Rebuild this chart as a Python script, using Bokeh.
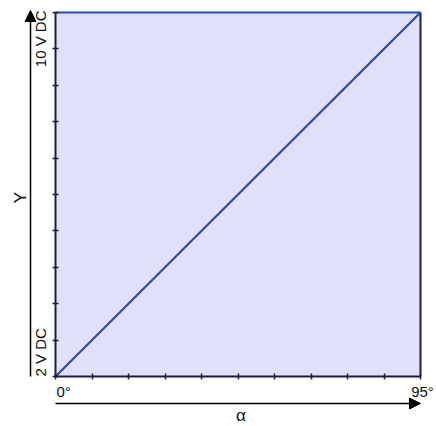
import math
from bokeh.plotting import figure
from bokeh.models import Range1d, FixedTicker, Label, Arrow, NormalHead, LinearAxis
from bokeh.embed import file_html
from bokeh.resources import INLINE

# data
alpha_range = [0, 95]          # degrees
signal_range = [2, 10]         # V DC
x_ticks = [0, 9.5, 19, 28.5, 38, 47.5, 57, 66.5, 76, 85.5, 95]
y_ticks = [2, 2.8, 3.6, 4.4, 5.2, 6.0, 6.8, 7.6, 8.4, 9.2, 10]
x_tick_labels = ["0°", "95°"]
y_tick_labels = ["2 V DC", "10 V DC"]
x_title = "α"
y_title = "Y"

FILL = "#e0e0fb"
LINE = "#2a4b9e"
AXIS = "#1c1f3e"
FONT = "Liberation Sans"

W, H = 434, 424
# pixel layout of the data box inside the canvas
BOX_L, BOX_R, BOX_T, BOX_B = 55, 420, 12, 376
ux = (alpha_range[1] - alpha_range[0]) / (BOX_R - BOX_L)
uy = (signal_range[1] - signal_range[0]) / (BOX_B - BOX_T)

p = figure(width=W, height=H, output_backend="svg", toolbar_location=None,
           x_range=Range1d(alpha_range[0] - BOX_L * ux, alpha_range[1] + (W - BOX_R) * ux),
           y_range=Range1d(signal_range[0] - (H - BOX_B) * uy, signal_range[1] + BOX_T * uy),
           x_axis_location=None, y_axis_location=None,
           min_border=0)
p.grid.visible = False
p.outline_line_color = None
p.background_fill_color = "white"
p.border_fill_color = "white"

# filled operating area
p.quad(left=[alpha_range[0]], right=[alpha_range[1]],
       bottom=[signal_range[0]], top=[signal_range[1]],
       fill_color=FILL, line_color=None)
# right boundary
p.line(x=[alpha_range[1], alpha_range[1]], y=signal_range, line_color=AXIS, line_width=2)
# top boundary
p.line(x=alpha_range, y=[signal_range[1], signal_range[1]], line_color=LINE, line_width=2)
# characteristic
p.line(x=alpha_range, y=signal_range, line_color=LINE, line_width=2.2)


def style(ax, ticks, bounds):
    ax.ticker = FixedTicker(ticks=[], minor_ticks=ticks)
    ax.bounds = tuple(bounds)
    ax.minor_tick_in = 3
    ax.minor_tick_out = 3
    ax.minor_tick_line_color = AXIS
    ax.minor_tick_line_width = 1.5
    ax.major_tick_line_color = None
    ax.axis_line_color = AXIS
    ax.axis_line_width = 2


xax = LinearAxis(fixed_location=signal_range[0])
style(xax, x_ticks, alpha_range)
p.add_layout(xax, "below")
yax = LinearAxis(fixed_location=alpha_range[0])
style(yax, y_ticks, signal_range)
p.add_layout(yax, "left")

common = dict(text_font=FONT, text_color="#111111")

# x tick labels
p.add_layout(Label(x=alpha_range[0], y=signal_range[0], text=x_tick_labels[0],
                   x_offset=1, y_offset=-6, text_align="left", text_baseline="top",
                   text_font_size="15px", **common))
p.add_layout(Label(x=alpha_range[1], y=signal_range[0], text=x_tick_labels[1],
                   x_offset=2, y_offset=-6, text_align="center", text_baseline="top",
                   text_font_size="15px", **common))
# y tick labels (rotated)
p.add_layout(Label(x=alpha_range[0], y=signal_range[0], text=y_tick_labels[0],
                   x_offset=-7, y_offset=0, angle=math.pi / 2,
                   text_align="left", text_baseline="bottom",
                   text_font_size="15px", **common))
p.add_layout(Label(x=alpha_range[0], y=signal_range[1], text=y_tick_labels[1],
                   x_offset=-7, y_offset=2, angle=math.pi / 2,
                   text_align="right", text_baseline="bottom",
                   text_font_size="15px", **common))

# axis arrows
p.add_layout(Arrow(x_start=alpha_range[0], y_start=signal_range[0] - 27 * uy,
                   x_end=alpha_range[1], y_end=signal_range[0] - 27 * uy,
                   line_color="black", line_width=1.5,
                   end=NormalHead(size=11, fill_color="black", line_color="black")))
p.add_layout(Arrow(x_start=alpha_range[0] - 25 * ux, y_start=signal_range[0],
                   x_end=alpha_range[0] - 25 * ux, y_end=signal_range[1] + 2 * uy,
                   line_color="black", line_width=1.5,
                   end=NormalHead(size=11, fill_color="black", line_color="black")))

# axis titles
p.add_layout(Label(x=(alpha_range[0] + alpha_range[1]) / 2, y=signal_range[0],
                   text=x_title, x_offset=3, y_offset=-39,
                   text_align="center", text_baseline="middle",
                   text_font_size="17px", **common))
p.add_layout(Label(x=alpha_range[0] - 35 * ux, y=(signal_range[0] + signal_range[1]) / 2,
                   text=y_title, y_offset=-3, angle=math.pi / 2,
                   text_align="center", text_baseline="middle",
                   text_font_size="17px", **common))

open("out.html", "w").write(file_html(p, INLINE))
